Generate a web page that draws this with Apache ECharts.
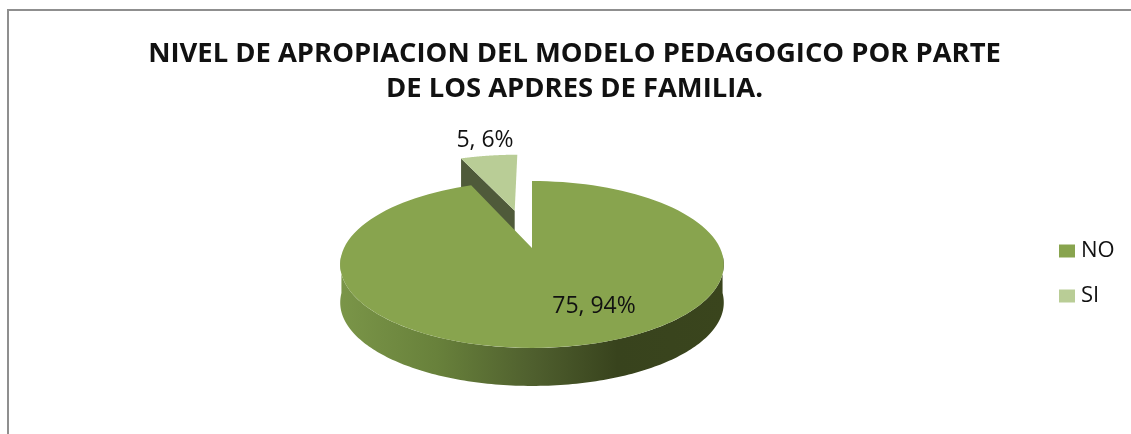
<!DOCTYPE html>
<html>
<head>
<meta charset="utf-8">
<title>Nivel de apropiacion</title>
<script src="https://cdn.jsdelivr.net/npm/echarts@6/dist/echarts.min.js"></script>
<style>
  html, body { margin: 0; padding: 0; background: #fff; }
  #main { width: 1131px; height: 434px; }
</style>
</head>
<body>
<div id="main"></div>
<script>
const titleLines = ["NIVEL DE APROPIACION DEL MODELO PEDAGOGICO POR PARTE", "DE LOS APDRES DE FAMILIA."];
const categories = ["NO", "SI"];
const values = [75, 5];

const colors = ["#88a44e", "#b9cd96"];
const total = values.reduce((a, b) => a + b, 0);

// pie plane -> screen, perspective view of a unit disc
const X0 = 532, Y0 = 248, A = 188, B = 80.2, K = 0.1976, DEPTH = 38;
const EXPLODE = 0.52; // SI slice pulled out of the pie
const labelPos = { NO: [594, 306], SI: [485, 140] };

function project(u, v) {
  const w = 1 + K * v;
  return [X0 + A * u / w, Y0 - B * v / w];
}

// angles clockwise from 12 o'clock, first slice starts at the top
function sliceAngles(i) {
  const start = values.slice(0, i).reduce((a, b) => a + b, 0) / total * 2 * Math.PI;
  return [start, start + values[i] / total * 2 * Math.PI];
}

const wallFill = new echarts.graphic.LinearGradient(341, 0, 725, 0, [
  { offset: 0, color: "#7a9548" },
  { offset: 0.25, color: "#68813b" },
  { offset: 0.5, color: "#4f5f2e" },
  { offset: 0.72, color: "#38431d" },
  { offset: 1, color: "#3a451d" }
], true);

function renderSlice(i) {
  const [a0, a1] = sliceAngles(i);
  const mid = (a0 + a1) / 2;
  const off = i === 1 ? EXPLODE : 0;
  const ou = off * Math.sin(mid), ov = off * Math.cos(mid);
  const rim = t => project(ou + Math.sin(t), ov + Math.cos(t));
  const apex = project(ou, ov);

  const face = [apex];
  for (let s = 0; s <= 120; s++) face.push(rim(a0 + (a1 - a0) * s / 120));

  const children = [];
  if (i === 0) {
    // front wall, only the part of the rim facing the viewer
    const front = [];
    for (let d = 95; d <= 265; d += 1) {
      front.push(rim(d * Math.PI / 180));
    }
    const low = front.slice().reverse().map(p => [p[0], p[1] + DEPTH]);
    children.push({
      type: "polygon",
      shape: { points: front.concat(low) },
      style: { fill: wallFill }
    });
  } else {
    // cut face of the pulled out slice
    const p = rim(a0), q = apex;
    children.push({
      type: "polygon",
      shape: { points: [p, q, [q[0], q[1] + DEPTH], [p[0], p[1] + DEPTH]] },
      style: { fill: "#4f5a3a" }
    });
  }
  children.push({
    type: "polygon",
    shape: { points: face },
    style: { fill: colors[i] }
  });
  const pct = Math.round(values[i] / total * 100);
  children.push({
    type: "text",
    z2: 10,
    style: {
      text: values[i] + ", " + pct + "%",
      x: labelPos[categories[i]][0],
      y: labelPos[categories[i]][1],
      align: "center",
      verticalAlign: "middle",
      fill: "#111",
      font: "23px 'Open Sans'"
    }
  });
  return { type: "group", children: children };
}

const chart = echarts.init(document.getElementById("main"));
chart.setOption({
  animation: false,
  title: {
    text: titleLines.join("\n"),
    left: 569.5,
    top: 31.5,
    textAlign: "center",
    textStyle: {
      fontFamily: "Open Sans",
      fontWeight: "bold",
      fontSize: 27.4,
      lineHeight: 35,
      color: "#111"
    }
  },
  legend: {
    data: categories,
    orient: "vertical",
    left: 1054,
    top: 235,
    itemWidth: 16,
    itemHeight: 13,
    itemGap: 23,
    icon: "rect",
    textStyle: { fontFamily: "Open Sans", fontSize: 22, color: "#111", padding: [0, 0, 0, 1] },
    selectedMode: false
  },
  graphic: [
    {
      type: "rect",
      silent: true,
      shape: { x: 8, y: 10, width: 1300, height: 600 },
      style: { fill: "none", stroke: "#8f8f8f", lineWidth: 2 }
    }
  ],
  // SI goes first so the big slice covers its lower part
  series: [1, 0].map(i => ({
    type: "custom",
    name: categories[i],
    coordinateSystem: "none",
    silent: true,
    z: i === 0 ? 3 : 2,
    itemStyle: { color: colors[i] },
    data: [values[i]],
    renderItem: () => renderSlice(i)
  }))
});
</script>
</body>
</html>
